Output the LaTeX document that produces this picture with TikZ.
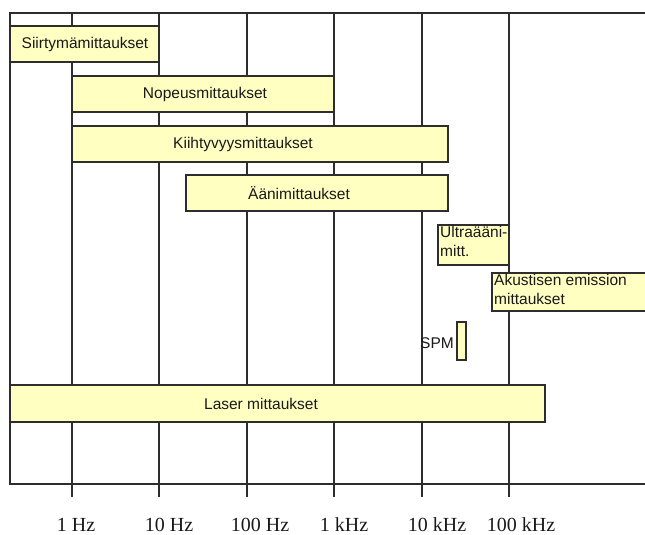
\documentclass[tikz,border=0pt]{standalone}
\usepackage{fontspec}
\setmainfont{Liberation Sans}
\newfontfamily\axisfont{Liberation Serif}
\definecolor{barfill}{RGB}{255,255,194}
\definecolor{linec}{RGB}{45,45,45}
\begin{document}
\begin{tikzpicture}[x=1pt,y=-1pt,
  gridline/.style={draw=linec, line width=1.3pt},
  bar/.style={draw=linec, line width=1.3pt, fill=barfill},
  lbl/.style={font=\fontsize{15.5}{19}\selectfont, inner sep=0pt, text=black!90},
  axl/.style={font=\axisfont\fontsize{20}{24}\selectfont, inner sep=0pt, anchor=base, text=black!90}]
\useasboundingbox (0,0) rectangle (645,535);
\begin{scope}
\clip (0,0) rectangle (645,535);
% frame
\draw[gridline] (660,13) -- (10,13) -- (10,484) -- (660,484);
% vertical grid lines with ticks
\foreach \x in {72,159,247,334,422,509}
  \draw[gridline] (\x,13) -- (\x,497);
% bars
\draw[bar] (10,26) rectangle (159,62);
\draw[bar] (72,76) rectangle (334,112);
\draw[bar] (72,126) rectangle (448,162);
\draw[bar] (186,175) rectangle (448,211);
\draw[bar] (438,225) rectangle (509,265);
\draw[bar] (492,273) rectangle (660,311);
\draw[bar] (457,322) rectangle (466,360);
\draw[bar] (10,385) rectangle (545,422);
\end{scope}
% labels
\node[lbl] (siirt) at (85,44) {Siirtymämittaukset};
\node[lbl] (nopeus) at (205,94) {Nopeusmittaukset};
\node[lbl] (kiiht) at (243,144) {Kiihtyvyysmittaukset};
\node[lbl] (aani) at (299,193) {Äänimittaukset};
\node[lbl, anchor=north west, align=left] (ultra) at (440,226) {Ultraääni-\\mitt.};
\node[lbl, anchor=north west, align=left] (akust) at (494,274) {Akustisen emission\\mittaukset};
\node[lbl, anchor=east] (spm) at (454,343) {SPM};
\node[lbl] (laser) at (261,404) {Laser mittaukset};
% axis labels
\node[axl] (f1) at (76,531) {1 Hz};
\node[axl] (f10) at (169,531) {10 Hz};
\node[axl] (f100) at (260,531) {100 Hz};
\node[axl] (f1k) at (344,531) {1 kHz};
\node[axl] (f10k) at (437,531) {10 kHz};
\node[axl] (f100k) at (521,531) {100 kHz};
\end{tikzpicture}
\end{document}
